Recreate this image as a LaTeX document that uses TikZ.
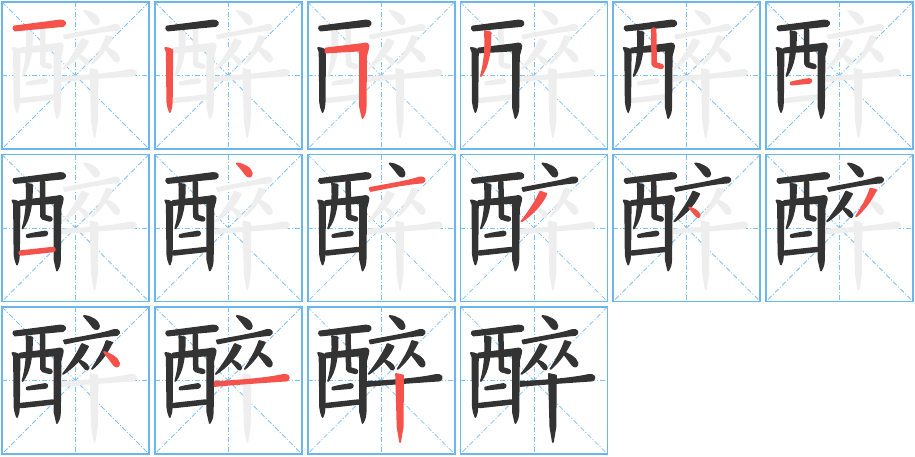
\documentclass[tikz,border=0pt]{standalone}
\usepackage{tikz}

\definecolor{gridblue}{HTML}{6CB6EE}
\definecolor{guideblue}{HTML}{7DC2F2}
\definecolor{inkdone}{HTML}{333333}
\definecolor{inknow}{HTML}{F5524B}
\definecolor{inkrest}{HTML}{EEEEEE}

\tikzset{
  cell/.style={draw=gridblue,line width=1.8pt},
  guide/.style={draw=guideblue,line width=0.8pt,dash pattern=on 5pt off 2pt on 1pt off 2pt},
  ink/.style={line width=1.8pt,line join=round},
  bar/.style={line width=5.5pt,line cap=round,line join=round},
}

% one stroke of the character, in the coordinates of a 147 x 147 cell
\newcommand\hanzistroke[2]{%
\ifcase#1\or
% 1 heng
\filldraw[#2,ink] (12,24.5) -- (58,18.5) .. controls (63,18) and (65,22) .. (61,24) -- (13,28.5) .. controls (11,28) and (11,25) .. (12,24.5) -- cycle;
\or
% 2 shu
\filldraw[#2,ink] (10.5,46) .. controls (13,46) .. (17.5,48) -- (17,100) .. controls (16.5,106) .. (15,110) .. controls (13.5,106) .. (12.5,100) -- (12,50) -- cycle;
\or
% 3 hengzhe
\filldraw[#2,ink] (18,46.5) -- (55,42) .. controls (59,40.5) and (62,42) .. (60.5,46.5) -- (58.5,54) -- (58,105) .. controls (57.5,111) .. (55,116) .. controls (53,111) .. (52.5,105) -- (52.5,48.5) -- (18,50.5) -- cycle;
\or
% 4 pie
\filldraw[#2,ink] (24.5,29) -- (30,30.5) .. controls (30,50) and (28,64) .. (20.5,74) .. controls (24,62) and (25.5,48) .. (24.5,29) -- cycle;
\or
% 5 shuwan
\draw[#2,bar] (40.5,28) -- (41,62.5) -- (48,64.5);
\or
% 6 heng
\filldraw[#2,ink] (25,80.5) .. controls (32,78.5) and (38,78) .. (43,77) .. controls (46,77) and (46,80.5) .. (43,81) -- (26,82.5) .. controls (24.5,82.5) .. (25,80.5) -- cycle;
\or
% 7 heng
\draw[#2,bar] (19,98.5) -- (51,95);
\or
% 8 dian
\filldraw[#2,ink] (82,9) .. controls (88,9) and (97,14) .. (97,19) .. controls (97,23) and (93,23) .. (91,20) .. controls (88,16) .. (82,9) -- cycle;
\or
% 9 heng
\filldraw[#2,ink] (62,33.5) .. controls (80,30) and (100,27) .. (112,23) .. controls (117,22) and (119,26) .. (115,28) .. controls (100,29) and (80,33) .. (63,36.5) -- cycle;
\or
% 10 pie
\filldraw[#2,ink] (80,37) -- (86,39.5) .. controls (80,52) and (70,61) .. (61,67) .. controls (68,58) and (75,48) .. (80,37) -- cycle;
\or
% 11 dian
\filldraw[#2,ink] (76,53) .. controls (80,54) and (86,57) .. (86.5,61) .. controls (86.5,63) and (84.5,63) .. (83.5,62) .. controls (81,59) .. (76,53) -- cycle;
\or
% 12 pie
\filldraw[#2,ink] (104.5,34) -- (110,35.5) .. controls (104,48) and (97,56) .. (90,62) .. controls (95,54) and (101,45) .. (104.5,34) -- cycle;
\or
% 13 dian
\filldraw[#2,ink] (102,45) .. controls (107,46) and (116,51) .. (117,56) .. controls (117.5,60) and (114,60.5) .. (112,58) .. controls (109,54) .. (102,45) -- cycle;
\or
% 14 heng
\filldraw[#2,ink] (60,75) .. controls (80,74) and (110,72) .. (128,68) .. controls (134,67) and (136,71) .. (132,73.5) .. controls (110,75) and (80,77) .. (60,79) -- cycle;
\or
% 15 shu
\filldraw[#2,ink] (88.5,67) -- (95.5,68.5) -- (95,120) .. controls (94.5,128) .. (92.5,135) .. controls (90.5,128) .. (90,120) -- cycle;
\fi}

\begin{document}
\begin{tikzpicture}[x=1pt,y=-1pt]
\useasboundingbox (0,0) rectangle (915,456);

\foreach \n in {1,...,16}{
  \pgfmathtruncatemacro\col{mod(\n-1,6)}
  \pgfmathtruncatemacro\row{div(\n-1,6)}
  \begin{scope}[shift={(2+152.8*\col,2+152.5*\row)}]
    \coordinate (nw) at (0,0);
    \coordinate (ne) at (147,0);
    \coordinate (sw) at (0,147);
    \coordinate (se) at (147,147);
    \coordinate (n) at (73.5,0);
    \coordinate (s) at (73.5,147);
    \coordinate (w) at (0,73.5);
    \coordinate (e) at (147,73.5);
    \draw[guide] (w)--(e);
    \draw[guide] (n)--(s);
    \draw[guide] (nw)--(se);
    \draw[guide] (ne)--(sw);
    % strokes still to come, then the ones done, then the current one
    \foreach \s in {1,...,15}
      \ifnum\s>\n \hanzistroke{\s}{inkrest}\fi;
    \foreach \s in {1,...,15}
      \ifnum\s<\n \hanzistroke{\s}{inkdone}\fi;
    \ifnum\n<16 \hanzistroke{\n}{inknow}\fi
    \draw[cell] (nw) rectangle (se);
  \end{scope}
}

\end{tikzpicture}
\end{document}
